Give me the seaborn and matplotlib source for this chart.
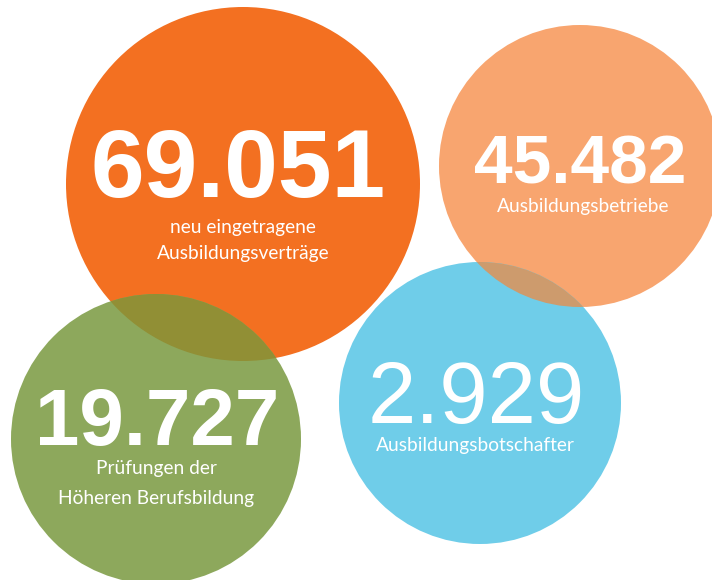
import matplotlib
matplotlib.use("Agg")
import matplotlib.pyplot as plt
from matplotlib.patches import Circle
import seaborn as sns

# ---- data ----
values = [69051, 45482, 19727, 2929]
labels = [
    "neu eingetragene\nAusbildungsverträge",
    "Ausbildungsbetriebe",
    "Prüfungen der\nHöheren Berufsbildung",
    "Ausbildungsbotschafter",
]

# ---- layout (pixels) ----
cx = [243, 580, 156, 480]
cy = [184, 166, 439, 403]
rad = [177, 141, 145, 141]
colors = ["#F37021", "#F8A56F", "#8DA85C", "#6FCDE9"]
num_x = [238, 580, 157, 476]
num_base = [197, 184, 445, 423]
num_size = [69.5, 50, 57.5, 62.5]
num_weight = ["bold", "bold", "bold", "normal"]
lab_base = [[233, 259], [212], [474, 504], [451]]
lab_x = [243, 583, 156, 475]
lab_size = 13.8
overlaps = [(0, 2, "#918F35"), (1, 3, "#CD9B6D")]

sns.set_theme(style="white")
plt.rcParams["font.family"] = ["Liberation Sans", "DejaVu Sans"]

fig = plt.figure(figsize=(7.12, 5.80), dpi=100)
ax = fig.add_axes([0, 0, 1, 1])
ax.set_xlim(0, 712)
ax.set_ylim(580, 0)
ax.set_aspect("equal")
ax.axis("off")

patches = []
for i in range(len(values)):
    c = Circle((cx[i], cy[i]), rad[i], facecolor=colors[i], edgecolor="none", zorder=1)
    ax.add_patch(c)
    patches.append(c)

for a, b, col in overlaps:
    ov = Circle((cx[b], cy[b]), rad[b], facecolor=col, edgecolor="none", zorder=2)
    ax.add_patch(ov)
    ov.set_clip_path(patches[a])

for i, v in enumerate(values):
    txt = f"{v:,}".replace(",", ".")
    ax.text(num_x[i], num_base[i], txt, ha="center", va="baseline", color="white",
            fontsize=num_size[i], fontweight=num_weight[i],
            family=["Liberation Sans", "DejaVu Sans"], zorder=5)
    for line, yb in zip(labels[i].split("\n"), lab_base[i]):
        ax.text(lab_x[i], yb, line, ha="center", va="baseline", color="white",
                fontsize=lab_size, fontweight="normal",
                family=["Lato", "Liberation Sans", "DejaVu Sans"], zorder=5)

fig.savefig("out.png", dpi=100)
